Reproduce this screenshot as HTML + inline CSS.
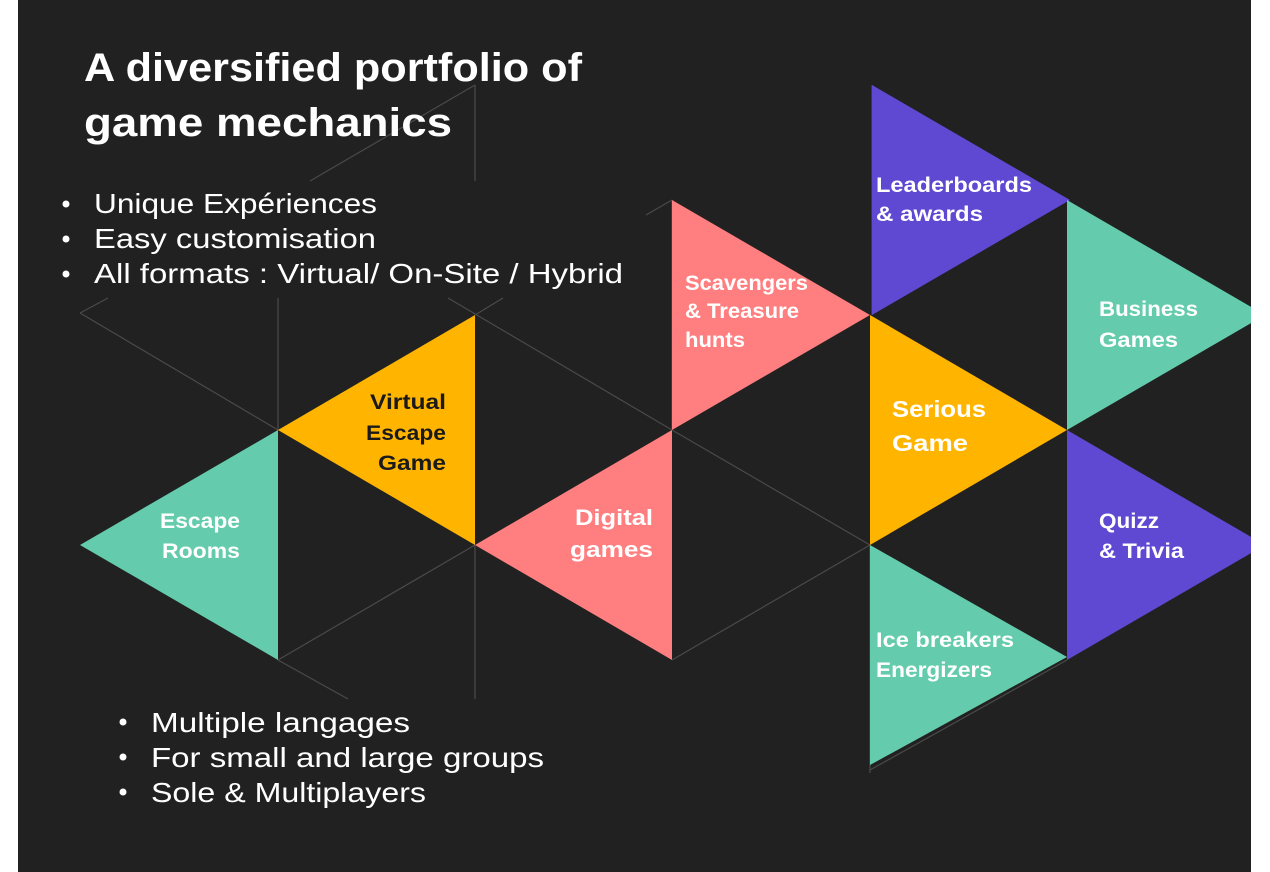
<!DOCTYPE html>
<html><head><meta charset="utf-8"><style>
html,body{margin:0;padding:0;background:#fff;}
svg{display:block;}
text{font-family:"Liberation Sans",sans-serif;}
</style></head><body>
<svg width="1270" height="872" viewBox="0 0 1270 872" xmlns="http://www.w3.org/2000/svg">
<rect x="0" y="0" width="1270" height="872" fill="#ffffff"/>
<rect x="18" y="0" width="1233" height="872" fill="#212121"/>
<g stroke="#4a4a4a" stroke-width="1.2" fill="none">
<line x1="80" y1="313" x2="108" y2="298"/>
<line x1="80" y1="313" x2="278" y2="430"/>
<line x1="278" y1="298" x2="278" y2="430"/>
<line x1="448" y1="298" x2="672" y2="430"/>
<line x1="503" y1="298" x2="475" y2="315"/>
<line x1="475" y1="85" x2="475" y2="181"/>
<line x1="475" y1="85" x2="310" y2="181"/>
<line x1="646" y1="215" x2="672" y2="200"/>
<line x1="672" y1="200" x2="672" y2="430"/>
<line x1="872" y1="85" x2="872" y2="315"/>
<line x1="278" y1="660" x2="475" y2="545"/>
<line x1="278" y1="660" x2="348" y2="699"/>
<line x1="475" y1="545" x2="475" y2="699"/>
<line x1="672" y1="660" x2="870" y2="545"/>
<line x1="672" y1="430" x2="870" y2="545"/>
<line x1="870" y1="770" x2="1067" y2="660"/>
<line x1="870" y1="545" x2="870" y2="773"/>
</g>
<polygon points="80,545 278,430 278,660" fill="#64ccac"/>
<polygon points="278,430 475,315 475,545" fill="#ffb400"/>
<polygon points="475,545 672,430 672,660" fill="#ff7f80"/>
<polygon points="672,200 870,315 672,430" fill="#ff7f80"/>
<polygon points="872,85 1070,200 872,315" fill="#5f49d2"/>
<polygon points="870,315 1067,430 870,545" fill="#ffb400"/>
<polygon points="1067,200 1265,315 1067,430" fill="#64ccac"/>
<polygon points="1067,430 1265,545 1067,660" fill="#5f49d2"/>
<polygon points="870,545 1067,657 870,765" fill="#64ccac"/>
<rect x="1251" y="0" width="19" height="872" fill="#ffffff"/>
<g fill="#ffffff" font-weight="bold" font-size="40">
<text x="84" y="81" textLength="498" lengthAdjust="spacingAndGlyphs">A diversified portfolio of</text>
<text x="84" y="136" textLength="368" lengthAdjust="spacingAndGlyphs">game mechanics</text>
</g>
<g fill="#ffffff" font-size="28">
<circle cx="66" cy="204" r="3.5"/><circle cx="66" cy="239" r="3.5"/><circle cx="66" cy="274" r="3.5"/>
<text x="94" y="213" textLength="283" lengthAdjust="spacingAndGlyphs">Unique Expériences</text>
<text x="94" y="248" textLength="282" lengthAdjust="spacingAndGlyphs">Easy customisation</text>
<text x="94" y="283" textLength="529" lengthAdjust="spacingAndGlyphs">All formats : Virtual/ On-Site / Hybrid</text>
<circle cx="123" cy="722" r="3.5"/><circle cx="123" cy="757" r="3.5"/><circle cx="123" cy="792" r="3.5"/>
<text x="151" y="732" textLength="259" lengthAdjust="spacingAndGlyphs">Multiple langages</text>
<text x="151" y="767" textLength="393" lengthAdjust="spacingAndGlyphs">For small and large groups</text>
<text x="151" y="802" textLength="275" lengthAdjust="spacingAndGlyphs">Sole &amp; Multiplayers</text>
</g>
<g fill="#ffffff" font-weight="bold" font-size="21">
<text x="876" y="192" textLength="156" lengthAdjust="spacingAndGlyphs">Leaderboards</text>
<text x="876" y="221" textLength="107" lengthAdjust="spacingAndGlyphs">&amp; awards</text>
<text x="685" y="290" textLength="123" lengthAdjust="spacingAndGlyphs">Scavengers</text>
<text x="685" y="318" textLength="114" lengthAdjust="spacingAndGlyphs">&amp; Treasure</text>
<text x="685" y="347" textLength="60" lengthAdjust="spacingAndGlyphs">hunts</text>
<text x="1099" y="316" textLength="99" lengthAdjust="spacingAndGlyphs">Business</text>
<text x="1099" y="347" textLength="79" lengthAdjust="spacingAndGlyphs">Games</text>
<text x="892" y="417" font-size="23" textLength="94" lengthAdjust="spacingAndGlyphs">Serious</text>
<text x="892" y="451" font-size="23" textLength="76" lengthAdjust="spacingAndGlyphs">Game</text>
<text x="160" y="528" textLength="80" lengthAdjust="spacingAndGlyphs">Escape</text>
<text x="162" y="558" textLength="78" lengthAdjust="spacingAndGlyphs">Rooms</text>
<text x="575" y="525" font-size="22" textLength="78" lengthAdjust="spacingAndGlyphs">Digital</text>
<text x="570" y="557" font-size="22" textLength="83" lengthAdjust="spacingAndGlyphs">games</text>
<text x="1099" y="528" textLength="60" lengthAdjust="spacingAndGlyphs">Quizz</text>
<text x="1099" y="558" textLength="85" lengthAdjust="spacingAndGlyphs">&amp; Trivia</text>
<text x="876" y="647" textLength="138" lengthAdjust="spacingAndGlyphs">Ice breakers</text>
<text x="876" y="677" textLength="116" lengthAdjust="spacingAndGlyphs">Energizers</text>
</g>
<g fill="#1a1a1a" font-weight="bold" font-size="21">
<text x="370" y="409" textLength="76" lengthAdjust="spacingAndGlyphs">Virtual</text>
<text x="366" y="440" textLength="80" lengthAdjust="spacingAndGlyphs">Escape</text>
<text x="378" y="470" textLength="68" lengthAdjust="spacingAndGlyphs">Game</text>
</g>
</svg>
</body></html>
